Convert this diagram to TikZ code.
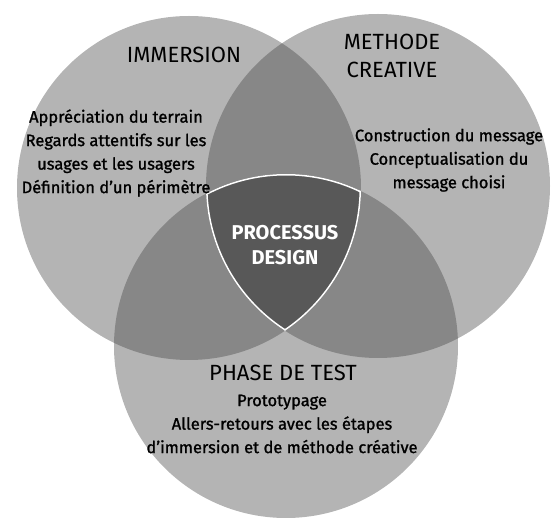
\documentclass[tikz,border=0pt]{standalone}
\usepackage{fontspec}
\setmainfont{Fira Sans}
\newfontfamily\bodyfont[FakeBold=1.2]{Fira Sans}
\definecolor{onezone}{RGB}{180,180,180}
\definecolor{twozone}{RGB}{135,135,135}
\definecolor{threezone}{RGB}{88,88,88}
\begin{document}
\begin{tikzpicture}[x=1pt,y=-1pt,
  title/.style={font=\fontsize{22}{28}\selectfont, align=center, inner sep=0pt},
  body/.style={font=\bodyfont\fontsize{16.5}{23.5}\selectfont, align=center, inner sep=0pt},
  core/.style={font=\fontsize{20}{25}\selectfont\bfseries, text=white, align=center, inner sep=0pt}]
\def\R{172pt}
\useasboundingbox (0,0) rectangle (555,521);

% circles
\coordinate (imm) at (189,188);
\coordinate (meth) at (378,186);
\coordinate (test) at (286,346);

\fill[onezone] (imm) circle (\R);
\fill[onezone] (meth) circle (\R);
\fill[onezone] (test) circle (\R);

% overlaps
\begin{scope}
  \clip (imm) circle (\R);
  \fill[twozone] (meth) circle (\R);
  \fill[twozone] (test) circle (\R);
\end{scope}
\begin{scope}
  \clip (meth) circle (\R);
  \fill[twozone] (test) circle (\R);
\end{scope}
\begin{scope}
  \clip (imm) circle (\R);
  \clip (meth) circle (\R);
  \clip (test) circle (\R);
  \fill[threezone] (test) circle (\R);
  \draw[white, line width=3pt] (imm) circle (\R);
  \draw[white, line width=3pt] (meth) circle (\R);
  \draw[white, line width=3pt] (test) circle (\R);
\end{scope}

% texts
\node[title] (immtitle) at (184,55) {IMMERSION};
\node[body] (immtext) at (116,153) {Appréciation du terrain\\Regards attentifs sur les\\usages et les usagers\\Définition d’un périmètre};

\node[title] (methtitle) at (392,56) {METHODE\\CREATIVE};
\node[body] (methtext) at (449,160) {Construction du message\\Conceptualisation du\\message choisi};

\node[core] (coretitle) at (285,245) {PROCESSUS\\DESIGN};

\node[title] (testtitle) at (283,373) {PHASE DE TEST};
\node[body] (testtext) at (282,424) {Prototypage\\Allers-retours avec les étapes\\d’immersion et de méthode créative};

\end{tikzpicture}
\end{document}
